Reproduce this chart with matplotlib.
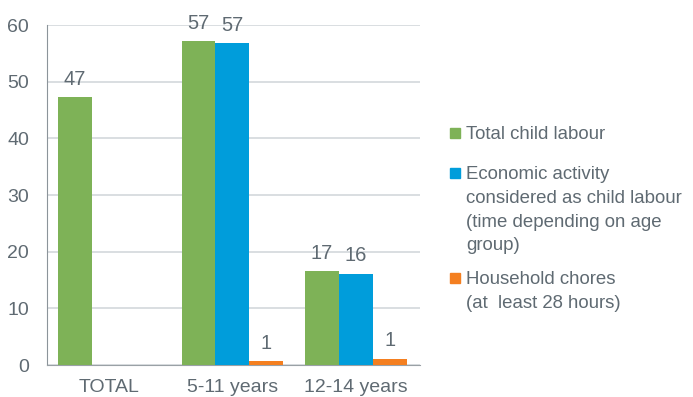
import matplotlib.pyplot as plt
import matplotlib.patches as mpatches
import numpy as np

plt.rcParams['font.family'] = ['Liberation Sans', 'DejaVu Sans']

groups = ['TOTAL', '5-11 years', '12-14 years']
series = ['Total child labour',
          'Economic activity\nconsidered as child labour\n(time depending on age\ngroup)',
          'Household chores\n(at  least 28 hours)']
total_child = [47.3, 57.1, 16.6]
economic = [None, 56.8, 16.1]
chores = [None, 0.7, 1.1]
colors = ['#7eb257', '#009ddb', '#f47f20']

text_col = '#5f6a72'
fig = plt.figure(figsize=(6.93, 3.97), dpi=100)
ax = fig.add_axes([0.0678, 0.0806, 0.5383, 0.8564])

x = np.arange(len(groups))
w = 0.274
for i, (vals, c) in enumerate(zip([total_child, economic, chores], colors)):
    for xi, v in zip(x, vals):
        if v is None:
            continue
        pos = xi - w + i * w
        ax.bar(pos, v, width=w, color=c, zorder=3)
        ax.annotate('%.0f' % v, (pos, v), xytext=(0, 6), textcoords='offset points',
                    ha='center', va='bottom', fontsize=14.5, color=text_col)

ax.set_xlim(-0.5, 2.52)
ax.set_ylim(0, 60)
ax.set_yticks(range(0, 61, 10))
ax.set_xticks(x)
ax.set_xticklabels(groups)
ax.tick_params(length=0, labelsize=14, colors=text_col)
ax.tick_params(axis='x', pad=10)
ax.tick_params(axis='y', pad=13)
ax.grid(axis='y', color='#d3d8dc', linewidth=1.2, zorder=0)
for s in ['top', 'right']:
    ax.spines[s].set_visible(False)
ax.spines['left'].set_color('#8c949a')
ax.spines['bottom'].set_color('#9aa1a6')

# legend drawn by hand so each square sits on the first line of its label
ys = [133, 173, 278]
for label, c, yp in zip(series, colors, ys):
    fy = 1 - yp / 397
    fig.patches.append(mpatches.Rectangle((450 / 693, fy - 5 / 397), 10 / 693, 10 / 397,
                                          transform=fig.transFigure, color=c))
    fig.text(466 / 693, fy + 7 / 397, label, ha='left', va='top', fontsize=13.4,
             color=text_col, linespacing=1.52)

fig.savefig('out.png', dpi=100)
